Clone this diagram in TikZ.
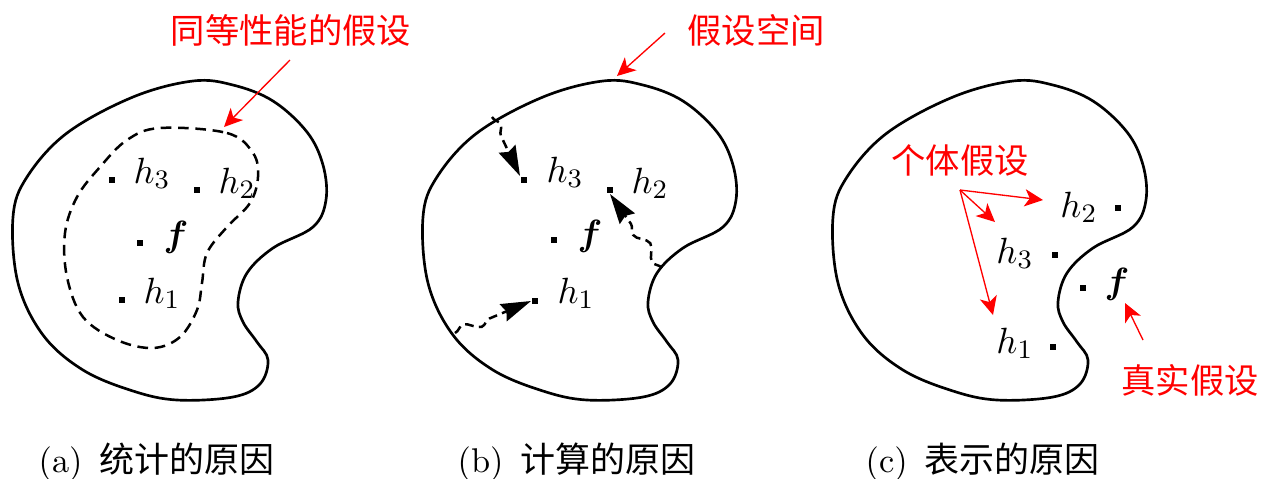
\documentclass[tikz,border=0pt]{standalone}
\usepackage{bm}
\usepackage{fontspec}
\newfontfamily\cjk{Noto Sans CJK SC}
\usetikzlibrary{arrows.meta,decorations.pathmorphing}
\tikzset{
  blobline/.style={line width=0.8pt, smooth cycle, tension=0.6},
  dashline/.style={line width=0.75pt, dash pattern=on 3.2pt off 2pt},
  dotnode/.style={fill, inner sep=0pt, minimum size=2pt, shape=rectangle},
  lab/.style={inner sep=0pt, font=\fontsize{11.2}{13}\selectfont},
  redlab/.style={inner sep=0pt, text=red, font=\cjk\fontsize{10.3}{12}\selectfont},
  redarrow/.style={red, line width=0.4pt, -{Stealth[length=5.5pt,width=5.2pt,inset=1.5pt]}},
  wavy/.style={line width=0.75pt, dash pattern=on 2.6pt off 1.6pt,
     decorate, decoration={snake, amplitude=1.4pt, segment length=10pt, post length=9pt},
     -{Stealth[length=9pt,width=5.5pt,inset=1pt]}},
  captext/.style={inner sep=0pt, anchor=base west, font=\fontsize{10.3}{12}\selectfont},
  blob/.pic={
    \draw[blobline] plot coordinates {
      (193,81) (133,97) (67,133) (27,177) (13,217) (18,283) (43,335) (83,370)
      (133,391) (177,400) (233,397) (260,384) (268,360) (257,342) (243,322)
      (238,302) (247,273) (273,248) (313,227) (326,200) (323,165) (307,132)
      (273,101) (233,85)};
  }
}
\begin{document}
\begin{tikzpicture}[x=0.3pt,y=-0.3pt]
\useasboundingbox (0,0) rectangle (1265,478);
% blobs
\pic at (0,0) {blob};
\pic at (410,0) {blob};
\pic at (820,0) {blob};

% ---------- panel (a) ----------
\draw[dashline] plot[smooth cycle, tension=0.6] coordinates {
  (160,128) (227,133) (253,153) (258,177) (250,203) (227,227) (207,253)
  (202,283) (197,310) (180,337) (153,348) (117,340) (83,317) (67,277)
  (65,233) (77,197) (100,167) (127,140)};
\node[dotnode] (a-h3) at (112,180) {};
\node[dotnode] (a-h2) at (197,190) {};
\node[dotnode] (a-f)  at (140,243) {};
\node[dotnode] (a-h1) at (122,300) {};
\node[lab, anchor=base west] (a-h3l) at (133,183) {$h_3$};
\node[lab, anchor=base west] (a-h2l) at (218,193) {$h_2$};
\node[lab, anchor=base west] (a-fl)  at (163,246) {$\bm{f}$};
\node[lab, anchor=base west] (a-h1l) at (143,303) {$h_1$};
\node[redlab] (a-red) at (291,30) {同等性能的假设};
\coordinate (a-s) at (290,60);
\coordinate (a-t) at (224,127);
\draw[redarrow] (a-s) -- (a-t);
\node[captext] (a-cap) at (38,472) {(a)\hspace{0.5em}{\cjk\fontsize{10.5}{12}\selectfont 统计的原因}};

% ---------- panel (b) ----------
\node[dotnode] (b-h3) at (524,180) {};
\node[dotnode] (b-h2) at (610,190) {};
\node[dotnode] (b-f)  at (554,240) {};
\node[dotnode] (b-h1) at (535,301) {};
\node[lab, anchor=base west] (b-h3l) at (546,182) {$h_3$};
\node[lab, anchor=base west] (b-h2l) at (631,193) {$h_2$};
\node[lab, anchor=base west] (b-fl)  at (577,245) {$\bm{f}$};
\node[lab, anchor=base west] (b-h1l) at (557,303) {$h_1$};
\coordinate (b-w1) at (492,117);
\coordinate (b-w2) at (455,333);
\coordinate (b-w3) at (662,268);
\draw[wavy] (b-w1) -- (b-h3.north west);
\draw[wavy] (b-w2) -- (b-h1.west);
\draw[wavy] (b-w3) -- (b-h2.south);
\node[redlab] (b-red) at (756,30) {假设空间};
\coordinate (b-s) at (665,33);
\coordinate (b-t) at (617,76);
\draw[redarrow] (b-s) -- (b-t);
\node[captext] (b-cap) at (457,472) {(b)\hspace{0.5em}{\cjk\fontsize{10.5}{12}\selectfont 计算的原因}};

% ---------- panel (c) ----------
\node[dotnode] (c-h2) at (1118,208) {};
\node[dotnode] (c-h3) at (1055,255) {};
\node[dotnode] (c-f)  at (1083,288) {};
\node[dotnode] (c-h1) at (1053,347) {};
\node[lab, anchor=base east] (c-h2l) at (1098,217) {$h_2$};
\node[lab, anchor=base east] (c-h3l) at (1034,263) {$h_3$};
\node[lab, anchor=base west] (c-fl)  at (1104,293) {$\bm{f}$};
\node[lab, anchor=base east] (c-h1l) at (1034,353) {$h_1$};
\node[redlab] (c-red1) at (960,160) {个体假设};
\coordinate (c-o) at (960,190);
\coordinate (c-t2) at (1043,200);
\coordinate (c-t3) at (995,222);
\coordinate (c-t1) at (993,315);
\draw[redarrow] (c-o) -- (c-t2);
\draw[redarrow] (c-o) -- (c-t3);
\draw[redarrow] (c-o) -- (c-t1);
\node[redlab] (c-red2) at (1190,380) {真实假设};
\coordinate (c-s) at (1143,340);
\coordinate (c-t) at (1125,303);
\draw[redarrow] (c-s) -- (c-t);
\node[captext] (c-cap) at (865,472) {(c)\hspace{0.5em}{\cjk\fontsize{10.5}{12}\selectfont 表示的原因}};
\end{tikzpicture}
\end{document}
